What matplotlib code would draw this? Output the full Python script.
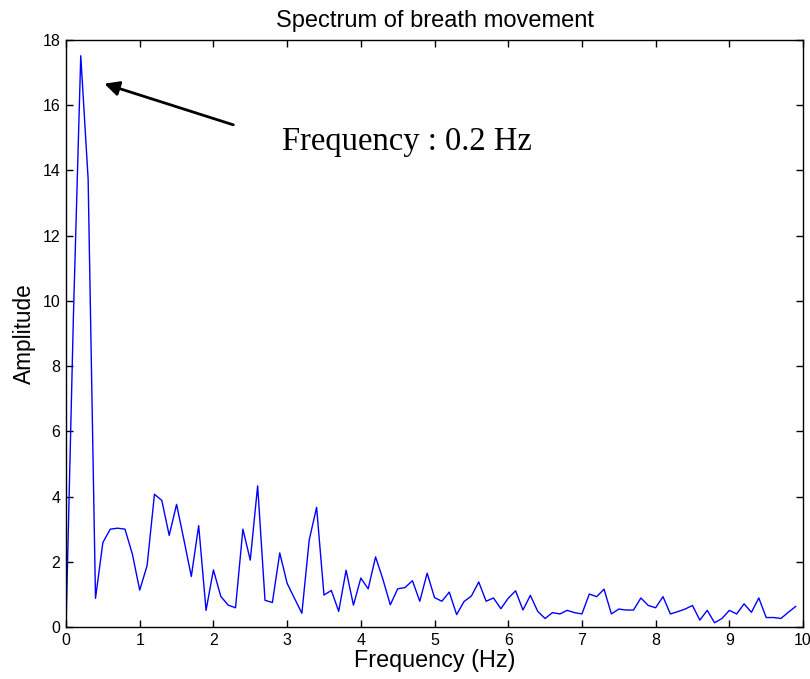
import numpy as np
import matplotlib.pyplot as plt

# spectrum samples, 0.1 Hz apart
freq = np.arange(100) / 10.0
amplitude = [
    0.0, 9.5, 17.52, 13.74, 0.88, 2.59, 3.00, 3.03, 3.00, 2.24,
    1.13, 1.88, 4.07, 3.88, 2.81, 3.76, 2.67, 1.55, 3.11, 0.51,
    1.75, 0.94, 0.67, 0.59, 3.00, 2.05, 4.33, 0.82, 0.75, 2.27,
    1.34, 0.88, 0.42, 2.67, 3.67, 0.98, 1.12, 0.48, 1.74, 0.67,
    1.50, 1.17, 2.15, 1.46, 0.68, 1.17, 1.21, 1.42, 0.79, 1.65,
    0.90, 0.79, 1.07, 0.38, 0.78, 0.95, 1.38, 0.79, 0.89, 0.56,
    0.88, 1.11, 0.52, 0.97, 0.48, 0.26, 0.44, 0.40, 0.51, 0.44,
    0.40, 1.01, 0.93, 1.16, 0.40, 0.55, 0.52, 0.52, 0.89, 0.66,
    0.59, 0.93, 0.40, 0.47, 0.55, 0.66, 0.21, 0.51, 0.13, 0.26,
    0.51, 0.40, 0.71, 0.45, 0.89, 0.29, 0.29, 0.26, 0.45, 0.63,
]
xticks = list(range(0, 11))
yticks = list(range(0, 19, 2))
peak_label = "Frequency : 0.2 Hz"

plt.rcParams['font.family'] = ['Liberation Sans', 'DejaVu Sans']

fig = plt.figure(figsize=(8.1, 6.79), dpi=100)
ax = fig.add_axes([0.0815, 0.0766, 0.9099, 0.8644])

ax.plot(freq, amplitude, color='#0000ff', linewidth=1.0)

ax.set_xlim(0, 10)
ax.set_ylim(0, 18)
ax.set_xticks(xticks)
ax.set_yticks(yticks)
ax.tick_params(direction='in', top=True, right=True, length=5, width=1,
               labelsize=11.5, pad=4)
for sp in ax.spines.values():
    sp.set_linewidth(1.0)

ax.set_title("Spectrum of breath movement", fontsize=17, pad=9.5)
ax.set_xlabel("Frequency (Hz)", fontsize=16.8, labelpad=1)
ax.set_ylabel("Amplitude", fontsize=16.3, labelpad=5)

# arrow pointing at the breathing peak
ax.annotate("", xy=(0.52, 16.66), xytext=(2.27, 15.4),
            arrowprops=dict(arrowstyle='-|>', color='black', lw=2,
                            mutation_scale=22, shrinkA=0, shrinkB=0))
ax.text(2.93, 14.63, peak_label, fontsize=23.5, va='baseline', ha='left',
        family=['Liberation Serif', 'DejaVu Serif'])

fig.savefig('out.png', dpi=100)
